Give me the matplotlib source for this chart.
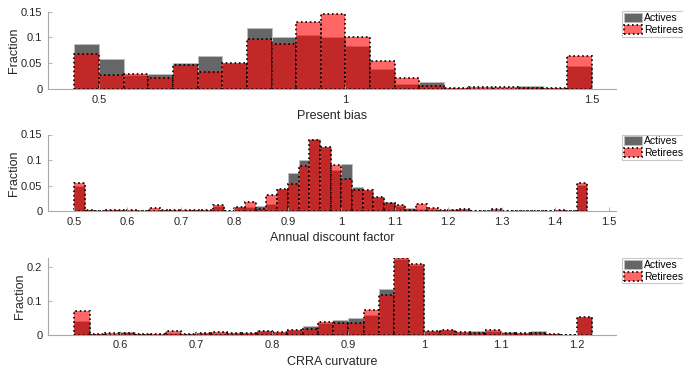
import numpy as np
import matplotlib
matplotlib.use("Agg")
import matplotlib.pyplot as plt
from matplotlib.ticker import FuncFormatter

plt.rcParams['font.family'] = ['Liberation Sans', 'DejaVu Sans']

# present bias, bins 0.45:0.05:1.5
pb_start, pb_width = 0.45, 0.05
pb_actives = [0.087, 0.058, 0.027, 0.030, 0.050, 0.065, 0.051, 0.118, 0.101, 0.104, 0.101,
              0.084, 0.039, 0.010, 0.014, 0.002, 0.003, 0.003, 0.006, 0.002, 0.045]
pb_retirees = [0.0675, 0.027, 0.030, 0.022, 0.047, 0.034, 0.051, 0.097, 0.087, 0.129, 0.146,
               0.101, 0.054, 0.021, 0.0065, 0.0026, 0.004, 0.004, 0.003, 0.0026, 0.064]

# annual discount factor, bins 0.5:0.02:1.46
df_start, df_width = 0.50, 0.02
df_actives = [0.050, 0.002, 0.0013, 0.002, 0.002, 0.0015, 0.001, 0.003, 0.0025, 0.0025,
              0.002, 0.003, 0.003, 0.0095, 0.0005, 0.008, 0.008, 0.0098, 0.015, 0.043,
              0.0753, 0.1008, 0.1415, 0.125, 0.081, 0.093, 0.0465, 0.042, 0.027, 0.019,
              0.011, 0.0065, 0.004, 0.004, 0.003, 0.004, 0.004, 0.0005, 0.001, 0.002,
              0.0005, 0.0005, 0.0005, 0.0005, 0.0005, 0.002, 0.0005, 0.052]
df_retirees = [0.056, 0.002, 0.001, 0.002, 0.002, 0.002, 0.001, 0.006, 0.0025, 0.002,
               0.002, 0.003, 0.003, 0.012, 0.0003, 0.0085, 0.019, 0.0045, 0.0315, 0.0438,
               0.0537, 0.0884, 0.1388, 0.1258, 0.091, 0.064, 0.0425, 0.0425, 0.0275, 0.0163,
               0.0118, 0.0026, 0.0144, 0.0065, 0.003, 0.003, 0.005, 0.0005, 0.001, 0.005,
               0.0005, 0.0005, 0.0005, 0.0005, 0.0005, 0.002, 0.0005, 0.055]

# CRRA curvature, bins 0.54:0.02:1.22
cr_start, cr_width = 0.54, 0.02
cr_actives = [0.040, 0.003, 0.003, 0.007, 0.001, 0.003, 0.004, 0.002, 0.004, 0.006,
              0.006, 0.004, 0.010, 0.008, 0.013, 0.0256, 0.0335, 0.042, 0.049, 0.058,
              0.1335, 0.224, 0.207, 0.010, 0.0127, 0.0088, 0.0118, 0.012, 0.0078, 0.004,
              0.0108, 0.002, 0.0005, 0.052]
cr_retirees = [0.069, 0.003, 0.005, 0.005, 0.001, 0.002, 0.0098, 0.002, 0.004, 0.0078,
               0.005, 0.004, 0.010, 0.008, 0.013, 0.0168, 0.038, 0.035, 0.035, 0.0726,
               0.118, 0.2256, 0.208, 0.010, 0.0138, 0.0088, 0.006, 0.0137, 0.004, 0.004,
               0.005, 0.002, 0.0005, 0.052]

panels = [
    (pb_start, pb_width, pb_actives, pb_retirees, "Present bias",
     (0.3965, 1.549), (0, 0.15), [0.5, 1, 1.5], [0, 0.05, 0.1, 0.15]),
    (df_start, df_width, df_actives, df_retirees, "Annual discount factor",
     (0.4514, 1.5137), (0, 0.15), np.round(np.arange(0.5, 1.51, 0.1), 1), [0, 0.05, 0.1, 0.15]),
    (cr_start, cr_width, cr_actives, cr_retirees, "CRRA curvature",
     (0.5054, 1.2516), (0, 0.2256), np.round(np.arange(0.6, 1.21, 0.1), 1), [0, 0.1, 0.2]),
]

# axes boxes in pixels: top, bottom
W, H = 683, 368
boxes = [(11.5, 89.3), (134.5, 211.3), (258.3, 334.7)]
left_px, right_px = 48, 616

txt_col = '#262626'
ax_col = '#a8a8a8'

fig = plt.figure(figsize=(W / 100, H / 100), dpi=100)
fmt = FuncFormatter(lambda v, p: '%g' % v)

for (start, width, act, ret, xlabel, xlim, ylim, xt, yt), (top, bot) in zip(panels, boxes):
    ax = fig.add_axes([left_px / W, 1 - bot / H, (right_px - left_px) / W, (bot - top) / H])
    lefts = start + width * np.arange(len(act))
    ax.bar(lefts, act, width=width, align='edge', facecolor=(0, 0, 0, 0.6),
           edgecolor='#c0c0c0', linewidth=0.6, label='Actives')
    ax.bar(lefts, ret, width=width, align='edge', facecolor=(1, 0, 0, 0.6),
           edgecolor='k', linewidth=1.2, linestyle=':', label='Retirees')
    ax.set_xlim(xlim)
    ax.set_ylim(ylim)
    ax.set_xticks(xt)
    ax.set_yticks(yt)
    ax.xaxis.set_major_formatter(fmt)
    ax.yaxis.set_major_formatter(fmt)
    for s in ['top', 'right']:
        ax.spines[s].set_visible(False)
    for s in ['left', 'bottom']:
        ax.spines[s].set_color(ax_col)
        ax.spines[s].set_linewidth(0.8)
    ax.tick_params(direction='in', length=3, width=0.6, color=ax_col,
                   labelsize=8, labelcolor=txt_col, pad=4)
    ax.set_xlabel(xlabel, fontsize=9, color=txt_col, labelpad=4)
    ax.set_ylabel('Fraction', fontsize=9, color=txt_col, labelpad=1)
    leg = ax.legend(loc='upper left', bbox_to_anchor=(622 / W, 1 - top / H),
                    bbox_transform=fig.transFigure, fontsize=7.5, frameon=True,
                    fancybox=False, framealpha=1, edgecolor='#c8c8c8',
                    handlelength=1.8, handleheight=1.0, handletextpad=0.15,
                    borderpad=0.15, labelspacing=0.15, borderaxespad=0)
    leg.get_frame().set_linewidth(0.8)

fig.savefig('out.png', dpi=100)
